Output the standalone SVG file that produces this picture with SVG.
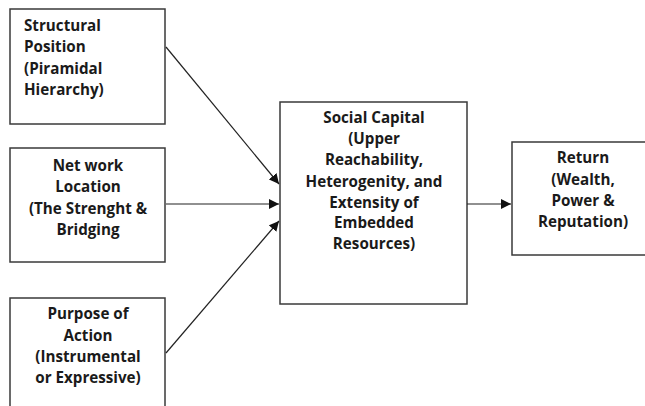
<svg xmlns="http://www.w3.org/2000/svg" width="645" height="406" viewBox="0 0 645 406">
<style>
.box{fill:#fff;stroke:#3a3a3a;stroke-width:1.5}
.t{font-family:"Open Sans","Liberation Sans",sans-serif;font-weight:bold;font-size:15.2px;fill:#1a1a1a}
.c{text-anchor:middle}
.ln{stroke:#222;stroke-width:1.2;fill:none;marker-end:url(#ah)}
</style>
<defs>
<marker id="ah" viewBox="0 0 10 10" refX="10" refY="5" markerWidth="10" markerHeight="10" markerUnits="userSpaceOnUse" orient="auto">
<path d="M0,0 L10,5 L0,10 z" fill="#111"/>
</marker>
</defs>
<rect width="645" height="406" fill="#fff"/>
<g id="structural">
<rect class="box" x="10" y="9" width="155" height="115"/>
<text class="t" x="24" y="31">Structural</text>
<text class="t" x="24" y="52">Position</text>
<text class="t" x="24" y="74">(Piramidal</text>
<text class="t" x="24" y="95">Hierarchy)</text>
</g>
<g id="network">
<rect class="box" x="10" y="148" width="155" height="114"/>
<text class="t c" x="88" y="171">Net work</text>
<text class="t c" x="88" y="192">Location</text>
<text class="t c" x="88" y="214">(The Strenght &amp;</text>
<text class="t c" x="88" y="235">Bridging</text>
</g>
<g id="purpose">
<rect class="box" x="10" y="298" width="155" height="120"/>
<text class="t c" x="88" y="319">Purpose of</text>
<text class="t c" x="88" y="341">Action</text>
<text class="t c" x="88" y="362">(Instrumental</text>
<text class="t c" x="88" y="383">or Expressive)</text>
</g>
<g id="social">
<rect class="box" x="280" y="102" width="187" height="202"/>
<text class="t c" x="374" y="123">Social Capital</text>
<text class="t c" x="374" y="144">(Upper</text>
<text class="t c" x="374" y="165">Reachability,</text>
<text class="t c" x="374" y="187">Heterogenity, and</text>
<text class="t c" x="374" y="208">Extensity of</text>
<text class="t c" x="374" y="228">Embedded</text>
<text class="t c" x="374" y="249">Resources)</text>
</g>
<g id="return">
<rect class="box" x="512" y="142" width="140" height="113"/>
<text class="t c" x="583" y="163">Return</text>
<text class="t c" x="583" y="185">(Wealth,</text>
<text class="t c" x="583" y="206">Power &amp;</text>
<text class="t c" x="583" y="227">Reputation)</text>
</g>
<g id="connectors">
<line class="ln" x1="166" y1="47" x2="279" y2="184"/>
<line class="ln" x1="166" y1="204" x2="279" y2="204"/>
<line class="ln" x1="166" y1="353" x2="279" y2="221"/>
<line class="ln" x1="467" y1="204" x2="511" y2="204"/>
</g>
</svg>
